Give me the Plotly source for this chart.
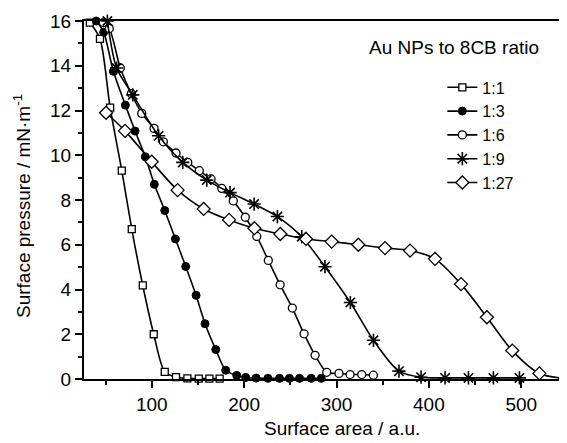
import plotly.graph_objects as go

# ---- data ----
area_1_1 = [33, 44, 55, 67.6, 78.4, 90.3, 102.2, 114.1, 126.3, 138.6, 150.9, 162.4, 173.5]
pres_1_1 = [15.93, 15.2, 12.13, 9.31, 6.70, 4.18, 2.0, 0.32, 0.08, 0.03, 0.02, 0.02, 0.02]

area_1_3 = [40, 48, 58.5, 71.5, 82, 93.1, 102.8, 114.1, 125.6, 136.8, 148, 157.7, 169.3,
            180.1, 192, 201.7, 213, 225.7, 238.3, 249, 260, 272.6, 283.5]
pres_1_3 = [16.0, 15.5, 13.75, 12.24, 11.08, 9.93, 8.70, 7.53, 6.26, 5.03, 3.74, 2.47, 1.32,
            0.39, 0.16, 0.07, 0.04, 0.03, 0.03, 0.03, 0.03, 0.03, 0.03]

area_1_6 = [47.6, 54.1, 66, 78, 89.2, 102.5, 112.6, 126.3, 139, 151.5, 164.2, 175.8, 188.3,
            201.3, 213.7, 226.2, 239, 252.2, 264.9, 276.8, 289.4, 302.7, 314.7, 327.3, 339.9]
pres_1_6 = [15.93, 15.67, 13.9, 12.75, 11.87, 11.2, 10.6, 10.1, 9.68, 9.31, 8.94, 8.52, 7.96,
            7.23, 6.37, 5.30, 4.21, 3.17, 2.02, 1.06, 0.30, 0.25, 0.2, 0.2, 0.17]

area_1_9 = [52, 62, 79.5, 107.5, 133.6, 159.6, 184.8, 210.8, 236, 262.4, 287.5, 315, 340,
            367.6, 391.5, 417.5, 442.8, 469.8, 498]
pres_1_9 = [16.0, 13.9, 12.7, 10.87, 9.68, 8.89, 8.33, 7.82, 7.26, 6.36, 5.02, 3.42, 1.73,
            0.35, 0.08, 0.05, 0.05, 0.05, 0.05]

area_1_27 = [50.6, 71.1, 100, 128, 156.2, 183.7, 211.1, 239.2, 267, 294.8, 323.6, 352.5,
             379.6, 406.6, 434.8, 462.8, 490.2, 519.6, 547]
pres_1_27 = [11.9, 11.09, 9.71, 8.44, 7.6, 7.11, 6.74, 6.48, 6.26, 6.14, 6.0, 5.85,
             5.74, 5.37, 4.24, 2.76, 1.27, 0.25, 0.03]

series_names = ["1:1", "1:3", "1:6", "1:9", "1:27"]
legend_title = "Au NPs to 8CB ratio"
x_title = "Surface area / a.u."
y_title = "Surface pressure / mN\u00b7m<sup>-1</sup>"

FONT = "Liberation Sans, Arial, Helvetica, sans-serif"
BLACK = "#000000"

styles = [
    dict(symbol="square", size=7, color="white", line=dict(color=BLACK, width=1.3)),
    dict(symbol="circle", size=8, color=BLACK, line=dict(color=BLACK, width=1)),
    dict(symbol="circle", size=8, color="white", line=dict(color=BLACK, width=1.3)),
    dict(symbol="asterisk-open", size=11, color=BLACK, line=dict(color=BLACK, width=1.6)),
    dict(symbol="diamond", size=10, color="white", line=dict(color=BLACK, width=1.3)),
]

data = [(area_1_1, pres_1_1), (area_1_3, pres_1_3), (area_1_6, pres_1_6),
        (area_1_9, pres_1_9), (area_1_27, pres_1_27)]

fig = go.Figure()
for (xs, ys), name, mk in zip(data, series_names, styles):
    fig.add_trace(go.Scatter(
        x=xs, y=ys, name=name, mode="lines+markers",
        line=dict(color=BLACK, width=1.6, shape="spline", smoothing=0.8),
        marker=mk, cliponaxis=False,
    ))

# the page body adds an 8 px offset, so the figure is 8 px smaller than the window
fig.update_layout(
    width=559, height=435,
    margin=dict(l=76, r=2, t=13, b=64, autoexpand=False),
    paper_bgcolor="white", plot_bgcolor="white",
    font=dict(family=FONT, size=19, color=BLACK),
    showlegend=True,
    legend=dict(
        x=0.745, y=0.862, xanchor="left", yanchor="top",
        bgcolor="rgba(0,0,0,0)", borderwidth=0,
        font=dict(family=FONT, size=16, color=BLACK),
        tracegroupgap=0,
    ),
    annotations=[
        dict(text=legend_title, xref="paper", yref="paper",
             x=0.769, y=0.927, xanchor="center", yanchor="middle",
             showarrow=False, font=dict(family=FONT, size=19, color=BLACK)),
        dict(text=x_title, xref="paper", yref="paper",
             x=0.536, y=-0.172, xanchor="center", yanchor="bottom",
             showarrow=False, font=dict(family=FONT, size=19, color=BLACK)),
        dict(text=y_title, xref="paper", yref="paper", textangle=-90,
             x=-0.129, y=0.483, xanchor="center", yanchor="middle",
             showarrow=False, font=dict(family=FONT, size=19, color=BLACK)),
    ],
)

fig.update_xaxes(
    range=[26.7, 547.3], dtick=100, tick0=0, automargin=False,
    showline=True, linecolor=BLACK, linewidth=2, mirror=True,
    ticks="outside", ticklen=7, tickwidth=2, tickcolor=BLACK,
    minor=dict(dtick=50, tick0=0, ticks="outside", ticklen=4, tickwidth=2, tickcolor=BLACK),
    showgrid=False, zeroline=False,
    tickfont=dict(size=19),
)
fig.update_yaxes(
    range=[0, 16], dtick=2, tick0=0, automargin=False,
    showline=True, linecolor=BLACK, linewidth=2, mirror=True,
    ticks="outside", ticklen=7, tickwidth=2, tickcolor=BLACK,
    minor=dict(dtick=1, tick0=0, ticks="outside", ticklen=4, tickwidth=2, tickcolor=BLACK),
    showgrid=False, zeroline=False,
    tickfont=dict(size=19),
)

fig.write_html("out.html")
